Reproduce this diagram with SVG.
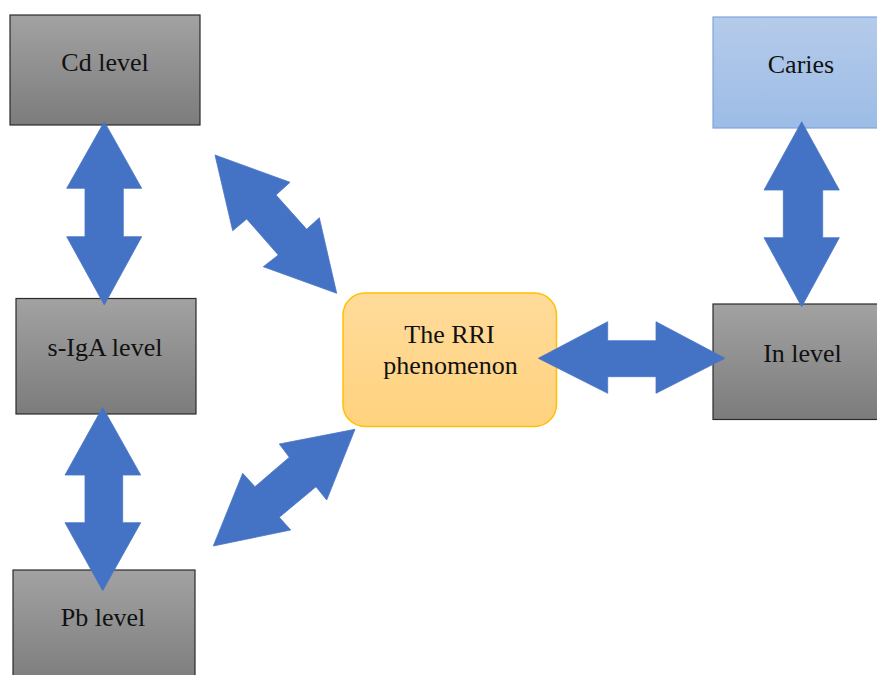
<svg xmlns="http://www.w3.org/2000/svg" width="877" height="675" viewBox="0 0 877 675">
<defs>
<linearGradient id="gGray" x1="0" y1="0" x2="0" y2="1">
<stop offset="0" stop-color="#a2a2a2"/>
<stop offset="1" stop-color="#7c7c7c"/>
</linearGradient>
<linearGradient id="gBlue" x1="0" y1="0" x2="0" y2="1">
<stop offset="0" stop-color="#b5cbea"/>
<stop offset="1" stop-color="#9cbce6"/>
</linearGradient>
<linearGradient id="gGold" x1="0" y1="0" x2="0" y2="1">
<stop offset="0" stop-color="#ffdb9b"/>
<stop offset="1" stop-color="#ffd27e"/>
</linearGradient>
</defs>
<style>
.gray{fill:url(#gGray);stroke:#2b2b2b;stroke-width:1.2}
.blue{fill:url(#gBlue);stroke:#7ea6dc;stroke-width:1.2}
.gold{fill:url(#gGold);stroke:#ffc000;stroke-width:1.5}
.lbl{font-size:26px;fill:#111;text-anchor:middle}
.arr{fill:#4472c4;stroke:#4a76c4;stroke-width:0.8;stroke-linejoin:miter}
</style>
<rect width="877" height="675" fill="#ffffff"/>
<g font-family="Liberation Serif, DejaVu Serif, serif">
<g id="cd">
<rect class="gray" x="10" y="15" width="190" height="110"/>
<text class="lbl" x="105" y="70.5">Cd level</text>
</g>
<g id="caries">
<rect class="blue" x="713" y="17" width="170" height="111"/>
<text class="lbl" x="801" y="73">Caries</text>
</g>
<g id="sIgA">
<rect class="gray" x="16" y="298.5" width="180" height="115.5"/>
<text class="lbl" x="105" y="356">s-IgA level</text>
</g>
<g id="pb">
<rect class="gray" x="13" y="570" width="182" height="115"/>
<text class="lbl" x="103" y="626">Pb level</text>
</g>
<g id="rri">
<rect class="gold" x="343" y="293" width="213.5" height="133.5" rx="22" ry="22"/>
<text class="lbl" x="449.5" y="343.3">The RRI</text>
<text class="lbl" x="450.5" y="374">phenomenon</text>
</g>
<g id="in">
<rect class="gray" x="713" y="304" width="170" height="115.5"/>
<text class="lbl" x="802.5" y="361.7">In level</text>
</g>
</g>
<g id="connectors">
<polygon class="arr" points="104.3,121.7 141.7,188.3 123.3,188.3 123.3,236.7 141.7,236.7 104.3,305 66.7,236.7 85,236.7 85,188.3 66.7,188.3"/>
<polygon class="arr" points="102.7,407.3 140.7,475 122.7,475 122.7,522.7 140.7,522.7 102.7,590.7 65,522.7 85,522.7 85,475 65,475"/>
<polygon class="arr" points="801.7,121.7 839.3,190 822.7,190 822.7,237.7 839.3,237.7 801.7,306.7 764,237.7 783.3,237.7 783.3,190 764,190"/>
<polygon class="arr" points="538.3,358.3 607.7,321.7 607.7,340.7 656,340.7 656,321.7 725,358.3 656,393.3 656,376.7 607.7,376.7 607.7,393.3"/>
<polygon class="arr" points="215,155 290,182.3 276,195 306.7,229.3 319.3,217.7 336.7,293.3 263.3,266.7 278.3,255 246.7,219 232.7,230.7"/>
<polygon class="arr" points="355,429.3 326.7,500 316,486.7 279.3,517.3 290.7,530 213.3,546 242.7,473.3 255,486.7 289.3,457.3 279.3,444"/>
</g>
</svg>
